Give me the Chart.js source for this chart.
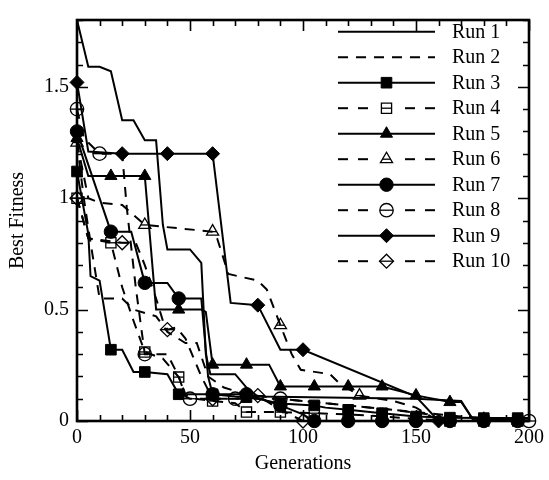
<!DOCTYPE html>
<html>
<head>
<meta charset="utf-8">
<script src="https://cdn.jsdelivr.net/npm/chart.js@4.4.0/dist/chart.umd.min.js"></script>
<style>
  html, body { margin: 0; padding: 0; background: #fff; }
  #wrap { width: 549px; height: 480px; }
</style>
</head>
<body>
<div id="wrap"><canvas id="fitness" width="549" height="480"></canvas></div>
<script>
// best fitness per generation, [generation, fitness]
const runLabels = ['Run 1', 'Run 2', 'Run 3', 'Run 4', 'Run 5', 'Run 6', 'Run 7', 'Run 8', 'Run 9', 'Run 10'];

const run1 = [[0, 1.8], [5, 1.59], [10, 1.59], [15, 1.57], [20, 1.35], [25, 1.35], [30, 1.26], [35, 1.26], [38, 0.88], [40, 0.77], [50, 0.77], [55, 0.71], [57, 0.3], [59, 0.21], [70, 0.21], [75, 0.15], [80, 0.11], [150, 0.1], [170, 0.09], [175, 0.01], [200, 0.01]];
const run2 = [[0, 1.25], [3, 1.0], [6, 0.8], [10, 0.55], [20, 0.55], [25, 0.5], [35, 0.47], [40, 0.4], [48, 0.35], [53, 0.35], [58, 0.2], [65, 0.15], [75, 0.12], [90, 0.1], [100, 0.09], [120, 0.07], [140, 0.05], [155, 0.03], [165, 0], [200, 0]];
const run3 = [[0, 1.12], [5, 0.84], [6, 0.65], [10, 0.63], [15, 0.32], [20, 0.32], [25, 0.22], [30, 0.22], [40, 0.21], [45, 0.12], [60, 0.12], [70, 0.11], [75, 0.107], [80, 0.1], [90, 0.078], [105, 0.07], [110, 0.06], [120, 0.05], [135, 0.035], [150, 0.02], [165, 0.015], [180, 0.013], [195, 0.013], [200, 0.013]];
const run4 = [[0, 1.0], [5, 0.82], [15, 0.8], [20, 0.6], [25, 0.45], [30, 0.31], [38, 0.28], [45, 0.197], [48, 0.12], [52, 0.1], [60, 0.09], [70, 0.08], [75, 0.04], [90, 0.04], [105, 0.035], [120, 0.03], [135, 0.02], [150, 0.01], [165, 0], [180, 0], [195, 0], [200, 0]];
const run5 = [[0, 1.27], [5, 1.1], [15, 1.1], [30, 1.1], [35, 0.5], [45, 0.5], [55, 0.5], [57, 0.49], [60, 0.253], [75, 0.253], [85, 0.253], [90, 0.155], [105, 0.155], [120, 0.155], [135, 0.155], [150, 0.115], [165, 0.085], [170, 0.085], [175, 0.01], [180, 0.01], [195, 0], [200, 0]];
const run6 = [[0, 1.25], [5, 1.0], [10, 0.98], [20, 0.97], [30, 0.88], [45, 0.865], [60, 0.85], [62, 0.82], [67, 0.66], [80, 0.63], [84, 0.59], [90, 0.43], [95, 0.3], [99, 0.23], [112, 0.21], [116, 0.17], [125, 0.114], [140, 0.09], [150, 0.06], [160, 0], [200, 0]];
const run7 = [[0, 1.3], [15, 0.85], [24, 0.85], [30, 0.62], [40, 0.62], [45, 0.55], [55, 0.55], [58, 0.2], [60, 0.12], [75, 0.12], [90, 0.07], [100, 0.03], [105, 0], [120, 0], [135, 0], [150, 0], [165, 0], [180, 0], [195, 0], [200, 0]];
const run8 = [[0, 1.4], [3, 1.27], [10, 1.2], [20, 1.2], [22, 0.96], [26, 0.6], [30, 0.3], [40, 0.3], [45, 0.2], [48, 0.11], [50, 0.1], [70, 0.1], [90, 0.1], [110, 0.08], [130, 0.06], [150, 0.04], [170, 0.02], [190, 0.01], [200, 0]];
const run9 = [[0, 1.52], [5, 1.21], [20, 1.2], [40, 1.2], [60, 1.2], [68, 0.53], [80, 0.52], [90, 0.32], [100, 0.32], [150, 0.11], [160, 0], [200, 0]];
const run10 = [[0, 1.0], [5, 0.82], [20, 0.8], [26, 0.8], [30, 0.7], [35, 0.55], [38, 0.45], [40, 0.41], [44, 0.42], [48, 0.37], [55, 0.2], [60, 0.1], [70, 0.1], [80, 0.114], [90, 0.05], [100, 0], [200, 0]];

// generations that carry a marker
const run1Marks = [];
const run2Marks = [];
const run3Marks = [0, 15, 30, 45, 60, 75, 90, 105, 120, 135, 150, 165, 180, 195];
const run4Marks = [0, 15, 30, 45, 60, 75, 90, 105, 120, 135, 150, 165, 180, 195];
const run5Marks = [0, 15, 30, 45, 60, 75, 90, 105, 120, 135, 150, 165, 180, 195];
const run6Marks = [0, 30, 60, 90, 125];
const run7Marks = [0, 15, 30, 45, 60, 75, 90, 105, 120, 135, 150, 165, 180, 195];
const run8Marks = [0, 10, 30, 50, 70, 90, 200];
const run9Marks = [0, 20, 40, 60, 80, 100, 160];
const run10Marks = [0, 20, 40, 60, 80, 100];

const xTicks = [0, 50, 100, 150, 200];
const yTicks = [0, 0.5, 1, 1.5];

const runs = [run1, run2, run3, run4, run5, run6, run7, run8, run9, run10];
const marks = [run1Marks, run2Marks, run3Marks, run4Marks, run5Marks, run6Marks, run7Marks, run8Marks, run9Marks, run10Marks];

const FONT = "'Liberation Serif', 'Times New Roman', serif";
const pointStyles = [null, null, 'rect', 'rect', 'triangle', 'triangle', 'circle', 'circle', 'rectRot', 'rectRot'];
const pointSizes = [0, 0, 7.5, 7.2, 7, 7, 6.7, 6.7, 7, 7];
const DASH = [10, 8];

Chart.defaults.font.family = FONT;
Chart.defaults.color = '#000';

const datasets = runs.map((pts, i) => {
  const dashed = i % 2 === 1;
  return {
    label: runLabels[i],
    data: pts.map(([x, y]) => ({ x, y })),
    borderColor: '#000',
    borderWidth: 2,
    borderDash: dashed ? DASH : [],
    tension: 0,
    fill: false,
    pointStyle: pointStyles[i] || 'circle',
    pointRadius: ctx => (ctx.raw && marks[i].includes(ctx.raw.x)) ? pointSizes[i] : 0,
    pointHoverRadius: 0,
    pointBackgroundColor: dashed ? 'rgba(0,0,0,0)' : '#000',
    pointBorderColor: '#000',
    pointBorderWidth: dashed ? 1.3 : 1,
    clip: false
  };
});

// half width of a marker at its centre line, for the bar across open markers
function barHalf(style, r) {
  if (style === 'rect') return r * Math.SQRT1_2;
  if (style === 'triangle') return r * 0.577;
  return r;
}

// open markers carry a horizontal bar
const markerBars = {
  id: 'markerBars',
  afterDatasetsDraw(chart) {
    const ctx = chart.ctx;
    ctx.save();
    ctx.strokeStyle = '#000';
    ctx.lineWidth = 1.3;
    chart.data.datasets.forEach((ds, i) => {
      if (i % 2 === 0 || !pointStyles[i]) return;
      chart.getDatasetMeta(i).data.forEach(pt => {
        const r = pt.options.radius;
        if (!r) return;
        const h = barHalf(pointStyles[i], r);
        ctx.beginPath();
        ctx.moveTo(pt.x - h, pt.y);
        ctx.lineTo(pt.x + h, pt.y);
        ctx.stroke();
      });
    });
    ctx.restore();
  }
};

// frame with inward ticks on all four sides
const frameTicks = {
  id: 'frameTicks',
  afterDraw(chart) {
    const { ctx, chartArea: a, scales } = chart;
    const x = scales.x, y = scales.y;
    ctx.save();
    ctx.strokeStyle = '#000';
    ctx.lineWidth = 1.6;
    ctx.beginPath();
    for (let g = 0; g <= 200; g += 10) {
      const px = Math.round(x.getPixelForValue(g)) + 0.5;
      const len = g % 50 === 0 ? 11 : 6;
      ctx.moveTo(px, a.bottom); ctx.lineTo(px, a.bottom - len);
      ctx.moveTo(px, a.top); ctx.lineTo(px, a.top + len);
    }
    for (let k = 0; k <= 18; k++) {
      const py = Math.round(y.getPixelForValue(k / 10)) + 0.5;
      const len = k % 5 === 0 ? 11 : 6;
      ctx.moveTo(a.left, py); ctx.lineTo(a.left + len, py);
      ctx.moveTo(a.right, py); ctx.lineTo(a.right - len, py);
    }
    ctx.stroke();
    ctx.lineWidth = 2.6;
    ctx.strokeRect(a.left, a.top, a.right - a.left, a.bottom - a.top);
    ctx.restore();
  }
};

// legend in the upper right: line sample, marker, label
const runLegend = {
  id: 'runLegend',
  afterDraw(chart) {
    const ctx = chart.ctx;
    const x0 = 338, x1 = 435, xm = 386.5, textX = 452;
    ctx.save();
    ctx.strokeStyle = '#000';
    ctx.fillStyle = '#000';
    ctx.font = '20px ' + FONT;
    ctx.textBaseline = 'middle';
    ctx.textAlign = 'left';
    chart.data.datasets.forEach((ds, i) => {
      const ly = 31.7 + i * 25.5;
      const dashed = i % 2 === 1;
      const style = pointStyles[i];
      ctx.lineWidth = 2;
      if (!dashed) {
        ctx.setLineDash([]);
        ctx.beginPath(); ctx.moveTo(x0, ly); ctx.lineTo(x1, ly); ctx.stroke();
      } else if (!style) {
        ctx.setLineDash(DASH);
        ctx.beginPath(); ctx.moveTo(x0, ly); ctx.lineTo(x1, ly); ctx.stroke();
      } else {
        ctx.setLineDash([10, 10]);
        ctx.beginPath(); ctx.moveTo(x0, ly); ctx.lineTo(xm - 14, ly); ctx.stroke();
        ctx.beginPath(); ctx.moveTo(x1, ly); ctx.lineTo(xm + 14, ly); ctx.stroke();
      }
      ctx.setLineDash([]);
      if (style) {
        const r = pointSizes[i];
        ctx.lineWidth = dashed ? 1.3 : 1;
        ctx.fillStyle = dashed ? 'rgba(0,0,0,0)' : '#000';
        Chart.helpers.drawPoint(ctx, { pointStyle: style, radius: r, rotation: 0, borderWidth: ctx.lineWidth }, xm, ly);
        if (dashed) {
          const h = barHalf(style, r);
          ctx.beginPath(); ctx.moveTo(xm - h, ly); ctx.lineTo(xm + h, ly); ctx.stroke();
        }
        ctx.fillStyle = '#000';
      }
      ctx.fillText(runLabels[i], textX, ly + 1);
    });
    ctx.restore();
  }
};

new Chart(document.getElementById('fitness'), {
  type: 'line',
  data: { datasets },
  options: {
    responsive: false,
    animation: false,
    devicePixelRatio: 1,
    layout: { padding: { top: 10, right: 20, left: 0, bottom: 0 } },
    plugins: { legend: { display: false }, tooltip: { enabled: false } },
    scales: {
      x: {
        type: 'linear',
        min: 0,
        max: 200,
        afterFit: s => { s.height = 59; },
        afterBuildTicks: s => { s.ticks = xTicks.map(v => ({ value: v })); },
        grid: { display: false, drawTicks: false },
        border: { display: false },
        ticks: { padding: 5, font: { size: 20 }, maxRotation: 0, autoSkip: false, callback: v => String(v) },
        title: { display: true, text: 'Generations', font: { size: 20 }, padding: { top: 0, bottom: 4 } }
      },
      y: {
        type: 'linear',
        min: 0,
        max: 1.8,
        afterFit: s => { s.width = 77; },
        afterBuildTicks: s => { s.ticks = yTicks.map(v => ({ value: v })); },
        grid: { display: false, drawTicks: false },
        border: { display: false },
        ticks: { padding: 8, font: { size: 20 }, callback: v => String(v) },
        title: { display: true, text: 'Best Fitness', font: { size: 20 }, padding: { top: 6, bottom: 0 } }
      }
    }
  },
  plugins: [markerBars, frameTicks, runLegend]
});
</script>
</body>
</html>
